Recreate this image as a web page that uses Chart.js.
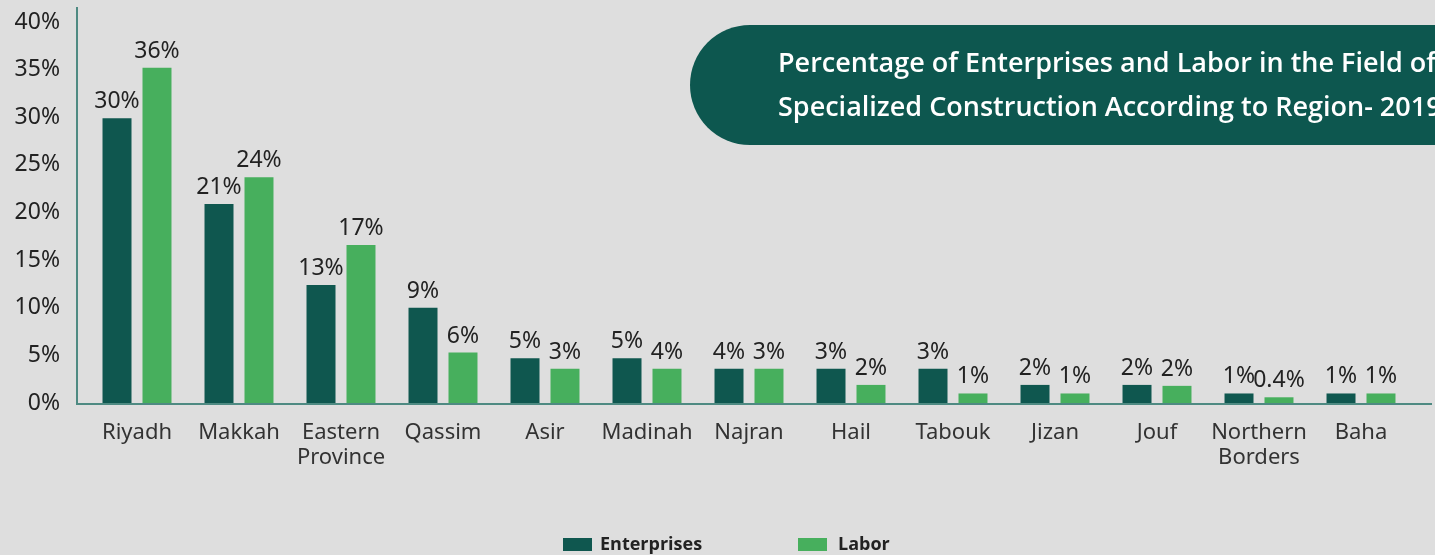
<!DOCTYPE html>
<html lang="en">
<head>
  <meta charset="UTF-8" />
  <title>Enterprises and Labor by Region</title>
  <script src="https://cdn.jsdelivr.net/npm/chart.js"></script>
  <style>
    html, body { margin: 0; padding: 0; background: #dedede; }
    canvas { display: block; }
  </style>
</head>
<body>
  <canvas id="regionChart" width="1435" height="555"></canvas>

  <script>
    // regions along the x axis
    const regions = [
      'Riyadh', 'Makkah', ['Eastern', 'Province'], 'Qassim', 'Asir', 'Madinah',
      'Najran', 'Hail', 'Tabouk', 'Jizan', 'Jouf', ['Northern', 'Borders'], 'Baha'
    ];

    // bar heights as drawn (percent)
    const enterprises = [29.9, 20.9, 12.4, 10.0, 4.7, 4.7, 3.6, 3.6, 3.6, 1.9, 1.9, 1.0, 1.0];
    const labor = [35.2, 23.7, 16.6, 5.3, 3.6, 3.6, 3.6, 1.9, 1.0, 1.0, 1.8, 0.6, 1.0];

    // printed labels above the bars
    const enterpriseLabels = ['30%', '21%', '13%', '9%', '5%', '5%', '4%', '3%', '3%', '2%', '2%', '1%', '1%'];
    const laborLabels = ['36%', '24%', '17%', '6%', '3%', '4%', '3%', '2%', '1%', '1%', '2%', '0.4%', '1%'];

    const yTicks = [0, 5, 10, 15, 20, 25, 30, 35, 40];

    const titleLines = [
      'Percentage of Enterprises and Labor in the Field of',
      'Specialized Construction According to Region- 2019'
    ];

    const DARK = '#0f574f';
    const LIGHT = '#47af5d';
    const AXIS = '#4e8a82';
    const TEXT = '#222';

    // value labels above each bar
    const barLabels = {
      id: 'barLabels',
      afterDatasetsDraw(chart) {
        const ctx = chart.ctx;
        const sets = [enterpriseLabels, laborLabels];
        ctx.save();
        ctx.font = '23px "Noto Sans", sans-serif';
        ctx.fillStyle = TEXT;
        ctx.textAlign = 'center';
        ctx.textBaseline = 'alphabetic';
        chart.data.datasets.forEach((ds, i) => {
          chart.getDatasetMeta(i).data.forEach((bar, j) => {
            ctx.fillText(sets[i][j], bar.x, bar.y - 10);
          });
        });
        ctx.restore();
      }
    };

    // axis lines, title banner and legend
    const decorations = {
      id: 'decorations',
      beforeDatasetsDraw(chart) {
        const ctx = chart.ctx;
        const area = chart.chartArea;
        ctx.save();
        ctx.strokeStyle = AXIS;
        ctx.lineWidth = 2;
        ctx.beginPath();
        ctx.moveTo(77, 7);
        ctx.lineTo(77, area.bottom + 1);
        ctx.lineTo(1432, area.bottom + 1);
        ctx.stroke();
        ctx.restore();
      },
      afterDraw(chart) {
        const ctx = chart.ctx;
        ctx.save();
        // banner
        const x = 690, y = 25, h = 120, r = 60;
        ctx.fillStyle = '#0d574f';
        ctx.beginPath();
        ctx.moveTo(x + r, y);
        ctx.lineTo(1500, y);
        ctx.lineTo(1500, y + h);
        ctx.lineTo(x + r, y + h);
        ctx.arc(x + r, y + r, r, Math.PI / 2, Math.PI * 1.5);
        ctx.closePath();
        ctx.fill();
        ctx.fillStyle = '#ffffff';
        ctx.font = '600 27px "Open Sans", sans-serif';
        ctx.textBaseline = 'middle';
        ctx.fillText(titleLines[0], 778, 64);
        ctx.fillText(titleLines[1], 778, 108);

        // legend
        ctx.font = 'bold 18px "Open Sans", sans-serif';
        ctx.textBaseline = 'middle';
        ctx.fillStyle = DARK;
        ctx.fillRect(563, 538, 29, 13);
        ctx.fillStyle = TEXT;
        ctx.fillText('Enterprises', 600, 545);
        ctx.fillStyle = LIGHT;
        ctx.fillRect(798, 538, 29, 13);
        ctx.fillStyle = TEXT;
        ctx.fillText('Labor', 838, 545);
        ctx.restore();
      }
    };

    new Chart(document.getElementById('regionChart'), {
      type: 'bar',
      data: {
        labels: regions,
        datasets: [
          { label: 'Enterprises', data: enterprises, backgroundColor: DARK },
          { label: 'Labor', data: labor, backgroundColor: LIGHT }
        ]
      },
      options: {
        responsive: false,
        animation: false,
        devicePixelRatio: 1,
        categoryPercentage: 0.784,
        barPercentage: 0.725,
        layout: { padding: { top: 22, right: 23, left: 0, bottom: 0 } },
        plugins: {
          legend: { display: false },
          tooltip: { enabled: false }
        },
        scales: {
          x: {
            grid: { display: false, drawTicks: false },
            border: { display: false },
            ticks: {
              color: '#333',
              font: { family: '"Noto Sans", sans-serif', size: 22, lineHeight: 1.1 },
              padding: 18,
              maxRotation: 0,
              autoSkip: false
            },
            afterFit(scale) {
              scale.height = 152;
              scale.paddingLeft = 0;
              scale.paddingRight = 0;
            }
          },
          y: {
            min: 0,
            max: 40,
            grid: { display: false, drawTicks: false },
            border: { display: false },
            afterBuildTicks(scale) { scale.ticks = yTicks.map(v => ({ value: v })); },
            ticks: {
              color: TEXT,
              font: { family: '"Noto Sans", sans-serif', size: 23 },
              padding: 26,
              callback: v => v + '%'
            },
            afterFit(scale) {
              scale.width = 86;
              scale.paddingTop = 0;
              scale.paddingBottom = 0;
            }
          }
        }
      },
      plugins: [decorations, barLabels]
    });
  </script>
</body>
</html>
